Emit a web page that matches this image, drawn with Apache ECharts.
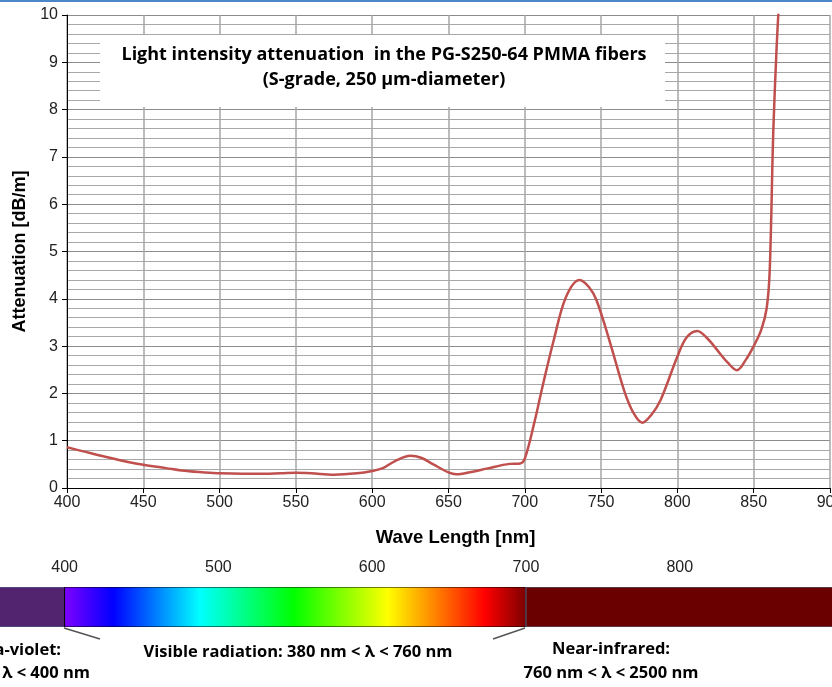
<!DOCTYPE html>
<html>
<head>
<meta charset="utf-8">
<script src="https://cdn.jsdelivr.net/npm/echarts@6/dist/echarts.min.js"></script>
<style>
  html, body { margin: 0; padding: 0; background: #fff; }
  #chart { width: 832px; height: 687px; }
</style>
</head>
<body>
<div id="chart"></div>
<script>
// attenuation curve
const wavelengths = [400, 410, 425, 440, 450, 465, 475, 490, 500, 515, 525, 540, 550, 560, 575, 590, 600, 607, 615, 625, 632, 640, 650, 655, 665, 675, 690, 697, 700, 706, 712, 719, 727, 736, 742, 747, 756, 765, 771, 777, 783, 789, 800, 806, 813, 820, 826, 833, 839, 845, 850, 855, 858.5, 860.5, 862.8, 865, 866.6];
const attenuation = [0.86, 0.78, 0.66, 0.55, 0.49, 0.42, 0.37, 0.33, 0.31, 0.30, 0.30, 0.31, 0.32, 0.31, 0.28, 0.31, 0.36, 0.42, 0.57, 0.68, 0.64, 0.50, 0.33, 0.29, 0.34, 0.41, 0.51, 0.52, 0.62, 1.35, 2.2, 3.13, 4.04, 4.40, 4.25, 3.97, 3.06, 2.07, 1.60, 1.38, 1.55, 1.86, 2.78, 3.18, 3.32, 3.15, 2.92, 2.65, 2.49, 2.72, 3.0, 3.35, 3.8, 4.6, 7.5, 9.3, 10.3];

// spectrum strip
const bandStartNm = [350, 400, 700];
const bandEndNm = [400, 700, 900];
const spectrumStopNm = [400, 432, 488, 549, 610, 673, 700];
const spectrumTicks = [400, 500, 600, 700, 800];

const stopColors = ['#7f00ff', '#0000ff', '#00ffff', '#00ff00', '#ffff00', '#ff0000', '#7a0000'];
const bandFill = ['#52236f', null, '#6b0000'];
const bandStroke = ['#4a6a8c', '#000', '#4a6a8c'];

const chart = echarts.init(document.getElementById('chart'));

const gradStops = spectrumStopNm.map((nm, i) => ({
  offset: (nm - spectrumStopNm[0]) / (spectrumStopNm[spectrumStopNm.length - 1] - spectrumStopNm[0]),
  color: stopColors[i]
}));

function renderBand(params, api) {
  const i = params.dataIndex;
  const p0 = api.coord([api.value(0), 1]);
  const p1 = api.coord([api.value(1), 0]);
  const fill = bandFill[i] || new echarts.graphic.LinearGradient(0, 0, 1, 0, gradStops);
  return {
    type: 'rect',
    shape: { x: p0[0], y: p0[1], width: p1[0] - p0[0], height: p1[1] - p0[1] },
    style: { fill: fill, stroke: bandStroke[i], lineWidth: 1 }
  };
}

const boldFont = 'Open Sans';
const axisFont = 'Liberation Sans';
const noteFont = 'bold 16.5px ' + boldFont;

const option = {
  animation: false,
  backgroundColor: '#fff',
  grid: [
    { left: 67, right: 2, top: 15, bottom: 199, outerBoundsMode: 'none', containLabel: false },
    { left: 0, right: 0, top: 587, height: 40, outerBoundsMode: 'none', containLabel: false }
  ],
  xAxis: [
    {
      type: 'value',
      gridIndex: 0,
      min: 400,
      max: 900,
      interval: 50,
      name: 'Wave Length [nm]',
      nameLocation: 'middle',
      nameGap: 40,
      nameTextStyle: { fontFamily: axisFont, fontWeight: 'bold', fontSize: 18.5, color: '#000', padding: [0, 0, 0, 14] },
      axisLine: { lineStyle: { color: '#000', width: 1 } },
      axisTick: { show: true, length: 5, lineStyle: { color: '#000' } },
      axisLabel: { fontFamily: axisFont, fontSize: 16, color: '#222', margin: 7, alignMinLabel: 'center', alignMaxLabel: 'center' },
      splitLine: { show: true, lineStyle: { color: '#a6a6a6', width: 1.5 } }
    },
    {
      type: 'value',
      gridIndex: 1,
      min: 358,
      max: 899,
      position: 'top',
      axisLine: { show: false },
      axisTick: { show: true, length: 3, customValues: spectrumTicks, lineStyle: { color: '#777', width: 2 } },
      axisLabel: { fontFamily: axisFont, fontSize: 16, color: '#222', margin: 11, customValues: spectrumTicks },
      splitLine: { show: false }
    }
  ],
  yAxis: [
    {
      type: 'value',
      gridIndex: 0,
      min: 0,
      max: 10,
      interval: 1,
      name: 'Attenuation [dB/m]',
      nameLocation: 'middle',
      nameGap: 32,
      nameTextStyle: { fontFamily: axisFont, fontWeight: 'bold', fontSize: 18, color: '#000' },
      axisLine: { show: true, lineStyle: { color: '#000', width: 1 } },
      axisTick: { show: true, length: 5, lineStyle: { color: '#000' } },
      axisLabel: { fontFamily: axisFont, fontSize: 16, color: '#222', margin: 9 },
      splitLine: { show: true, lineStyle: { color: '#8c8c8c', width: 1.2 } },
      minorTick: { show: false, splitNumber: 5 },
      minorSplitLine: { show: true, lineStyle: { color: '#a8a8a8', width: 1.2 } }
    },
    {
      type: 'value',
      gridIndex: 1,
      min: 0,
      max: 1,
      show: false
    }
  ],
  series: [
    {
      type: 'line',
      xAxisIndex: 0,
      yAxisIndex: 0,
      data: wavelengths.map((w, i) => [w, attenuation[i]]),
      smooth: 0.35,
      showSymbol: false,
      clip: true,
      lineStyle: { color: '#c0504d', width: 2.5 },
      z: 5
    },
    {
      type: 'custom',
      xAxisIndex: 1,
      yAxisIndex: 1,
      renderItem: renderBand,
      data: bandStartNm.map((s, i) => [s, bandEndNm[i]]),
      clip: true
    }
  ],
  graphic: [
    { type: 'rect', left: 0, top: 0, z: 100, shape: { width: 832, height: 2 }, style: { fill: '#4a86c8' } },
    { type: 'rect', z: 100, shape: { x: 100, y: 35, width: 565, height: 72 }, style: { fill: '#fff' } },
    {
      type: 'text', z: 101, x: 384, y: 55,
      style: { text: 'Light intensity attenuation  in the PG-S250-64 PMMA fibers', align: 'center', verticalAlign: 'middle',
               font: 'bold 18px ' + boldFont, fill: '#000' }
    },
    {
      type: 'text', z: 101, x: 384, y: 80,
      style: { text: '(S-grade, 250 µm-diameter)', align: 'center', verticalAlign: 'middle',
               font: 'bold 18px ' + boldFont, fill: '#000' }
    },
    { type: 'line', z: 100, shape: { x1: 64, y1: 628, x2: 100, y2: 639 }, style: { stroke: '#555', lineWidth: 1.5 } },
    { type: 'line', z: 100, shape: { x1: 525, y1: 628, x2: 493, y2: 639 }, style: { stroke: '#555', lineWidth: 1.5 } },
    { type: 'text', z: 100, x: 61, y: 650, style: { text: 'Ultra-violet:', align: 'right', verticalAlign: 'middle', font: noteFont, fill: '#000' } },
    { type: 'text', z: 100, x: 90, y: 673, style: { text: '10 nm < λ < 400 nm', align: 'right', verticalAlign: 'middle', font: noteFont, fill: '#000' } },
    { type: 'text', z: 100, x: 298, y: 652, style: { text: 'Visible radiation: 380 nm < λ < 760 nm', align: 'center', verticalAlign: 'middle', font: noteFont, fill: '#000' } },
    { type: 'text', z: 100, x: 611, y: 649, style: { text: 'Near-infrared:', align: 'center', verticalAlign: 'middle', font: noteFont, fill: '#000' } },
    { type: 'text', z: 100, x: 611, y: 673, style: { text: '760 nm < λ < 2500 nm', align: 'center', verticalAlign: 'middle', font: noteFont, fill: '#000' } }
  ]
};

chart.setOption(option);
</script>
</body>
</html>
